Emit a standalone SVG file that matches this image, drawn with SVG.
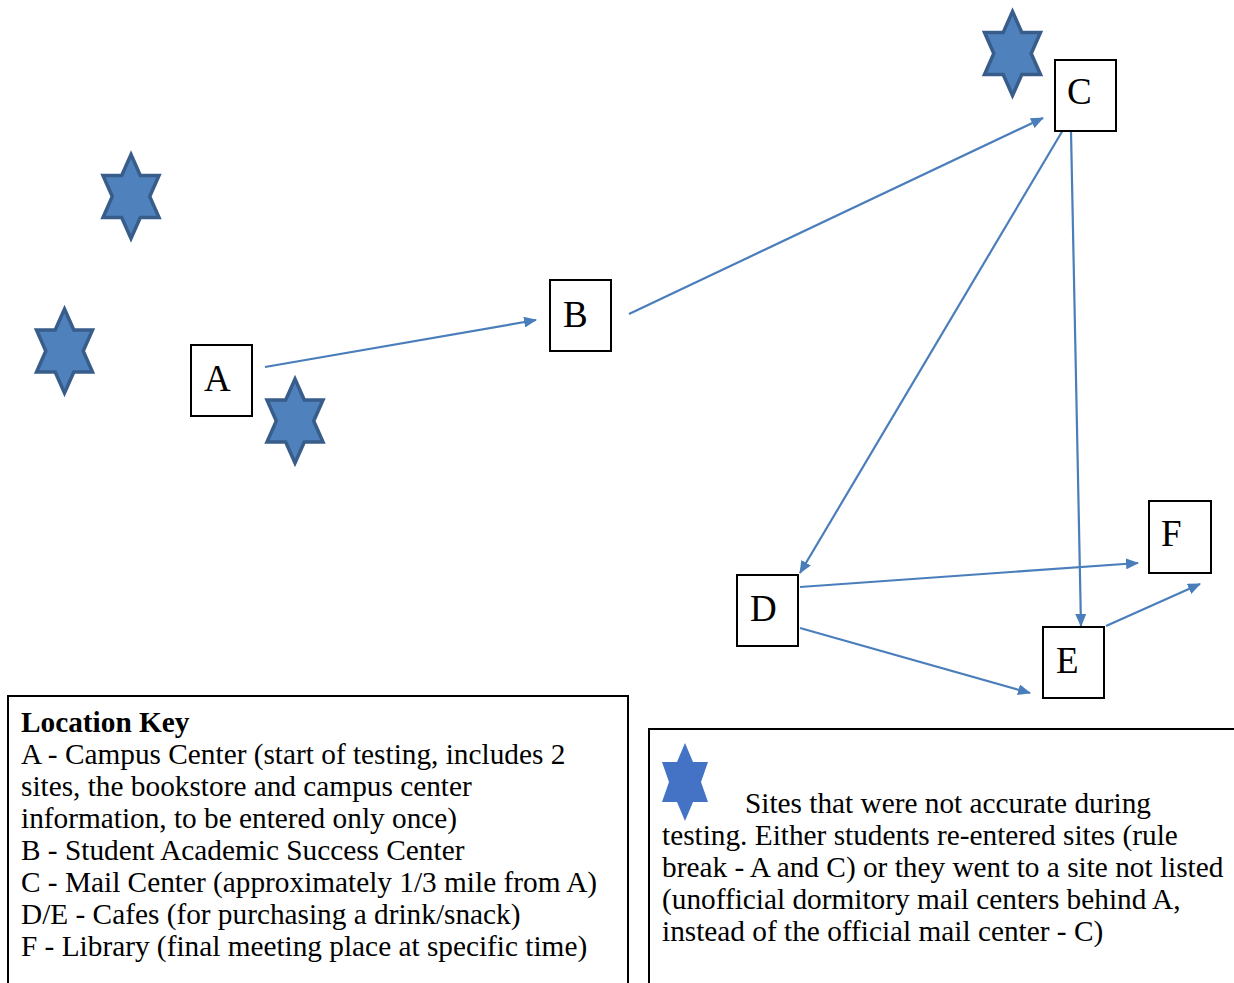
<svg xmlns="http://www.w3.org/2000/svg" width="1234" height="983" viewBox="0 0 1234 983">
<style>
.box{fill:#fff;stroke:#000;stroke-width:2}
.lbl{font-family:"Liberation Serif","Times New Roman",serif;font-size:37px;fill:#000}
.conn{stroke:#4a7ebb;stroke-width:2.2;fill:none;marker-end:url(#ah)}
.star{fill:#4f81bd;stroke:#385d8a;stroke-width:3.5;stroke-linejoin:miter}
.key{font-family:"Liberation Serif","Times New Roman",serif;font-size:29.3px;fill:#000}
.frame{fill:#fff;stroke:#000;stroke-width:2}
</style>
<defs>
<marker id="ah" viewBox="0 0 13 11" refX="12" refY="5.5" markerWidth="13" markerHeight="11" markerUnits="userSpaceOnUse" orient="auto">
<path d="M0,0 L13,5.5 L0,11 Z" fill="#4a7ebb"/>
</marker>
<path id="hex" d="M0,-42 L9.3,-21 L28,-21 L18.7,0 L28,21 L9.3,21 L0,42 L-9.3,21 L-28,21 L-18.7,0 L-28,-21 L-9.3,-21 Z"/>
</defs>

<g id="connectors">
<line class="conn" x1="265" y1="367" x2="536" y2="320"/>
<line class="conn" x1="629" y1="314" x2="1043" y2="118"/>
<line class="conn" x1="1063" y1="130" x2="800" y2="573"/>
<line class="conn" x1="1071" y1="131" x2="1081" y2="626"/>
<line class="conn" x1="800" y1="587" x2="1138" y2="563"/>
<line class="conn" x1="800" y1="628" x2="1030" y2="693"/>
<line class="conn" x1="1106" y1="626" x2="1200" y2="584"/>
</g>

<g id="stars">
<use href="#hex" class="star" transform="translate(131,196.5)"/>
<use href="#hex" class="star" transform="translate(64.5,351)"/>
<use href="#hex" class="star" transform="translate(295,421)"/>
<use href="#hex" class="star" transform="translate(1012.5,53.5)"/>
</g>

<g id="node-A"><rect class="box" x="191" y="345" width="61" height="71"/><text class="lbl" x="204" y="391">A</text></g>
<g id="node-B"><rect class="box" x="550" y="280" width="61" height="71"/><text class="lbl" x="563" y="327">B</text></g>
<g id="node-C"><rect class="box" x="1055" y="60" width="61" height="71"/><text class="lbl" x="1067" y="104">C</text></g>
<g id="node-D"><rect class="box" x="737" y="575" width="61" height="71"/><text class="lbl" x="750" y="621">D</text></g>
<g id="node-E"><rect class="box" x="1043" y="627" width="61" height="71"/><text class="lbl" x="1056" y="673">E</text></g>
<g id="node-F"><rect class="box" x="1149" y="501" width="62" height="72"/><text class="lbl" x="1161" y="546">F</text></g>

<g id="location-key">
<rect class="frame" x="8" y="696" width="620" height="300"/>
<text class="key" x="21" y="732" font-weight="bold">Location Key</text>
<text class="key" x="21" y="764">A - Campus Center (start of testing, includes 2</text>
<text class="key" x="21" y="796">sites, the bookstore and campus center</text>
<text class="key" x="21" y="828">information, to be entered only once)</text>
<text class="key" x="21" y="860">B - Student Academic Success Center</text>
<text class="key" x="21" y="892">C - Mail Center (approximately 1/3 mile from A)</text>
<text class="key" x="21" y="924">D/E - Cafes (for purchasing a drink/snack)</text>
<text class="key" x="21" y="956">F - Library (final meeting place at specific time)</text>
</g>

<g id="star-legend">
<rect class="frame" x="649" y="729" width="600" height="280"/>
<path d="M685,743 L693,762 L708,762 L701,782 L708,802 L693,802 L685,821 L677,802 L662,802 L669,782 L662,762 L677,762 Z" fill="#4472c4"/>
<text class="key" x="745" y="813">Sites that were not accurate during</text>
<text class="key" x="662" y="845">testing. Either students re-entered sites (rule</text>
<text class="key" x="662" y="877">break - A and C) or they went to a site not listed</text>
<text class="key" x="662" y="909">(unofficial dormitory mail centers behind A,</text>
<text class="key" x="662" y="941">instead of the official mail center - C)</text>
</g>
</svg>
